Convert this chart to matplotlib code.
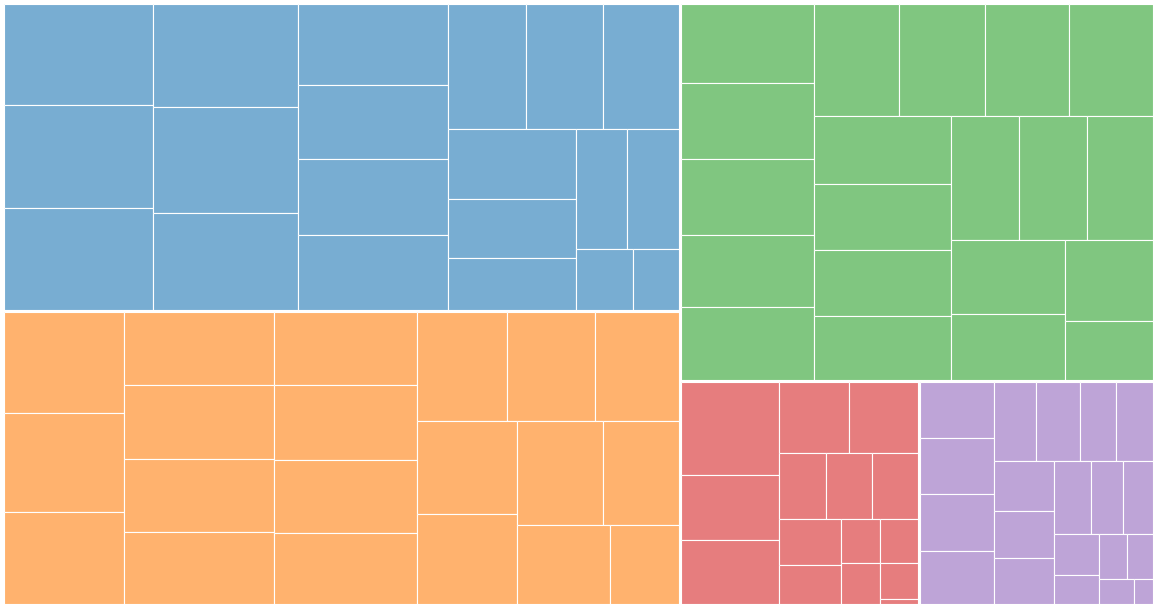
import math
import matplotlib
matplotlib.use("Agg")
import matplotlib.pyplot as plt
from matplotlib.patches import Rectangle

# ---- data (leaf values per group, in layout order) ----
groups = ["A", "B", "C", "D", "E"]
blue_values = [14999, 15251, 15043, 14979, 15225, 14022, 12081, 11168, 11228, 11182,
               9700, 9625, 9525, 8870, 7514, 6656, 6105, 6200, 3437, 2762]
orange_values = [12100, 11740, 11058, 10951, 11011, 10861, 10697, 10526, 10727, 10440,
                 10138, 9804, 9618, 9127, 9145, 8946, 8832, 7785, 7375, 5456]
green_values = [10460, 10102, 9930, 9586, 9573, 9562, 9573, 9349, 9383, 9302,
                9137, 8985, 8806, 8415, 8452, 8167, 8380, 7425, 7016, 5174]
red_values = [9062, 6421, 6284, 4989, 4889, 3141, 3074, 3047, 2857, 2403,
              1705, 1687, 1600, 1390, 194]
purple_values = [4143, 4121, 4217, 3921, 3369, 3448, 2899, 2946, 3039, 2857,
                 2778, 2660, 2396, 2176, 1848, 1306, 1259, 1169, 904, 479]
group_values = [blue_values, orange_values, green_values, red_values, purple_values]
group_colors = ["#1f77b4", "#ff7f0e", "#2ca02c", "#d62728", "#9467bd"]

PHI = (1 + math.sqrt(5)) / 2


def squarify(values, x0, y0, x1, y1, ratio=PHI):
    """d3-style squarified treemap layout; returns list of (x0, y0, x1, y1)."""
    rects = [None] * len(values)
    n = len(values)
    value = float(sum(values))
    i0 = i1 = 0
    while i0 < n:
        dx, dy = x1 - x0, y1 - y0
        s = values[i1]
        i1 += 1
        mn = mx = s
        alpha = max(dy / dx, dx / dy) / (value * ratio)
        beta = s * s * alpha
        min_ratio = max(mx / beta, beta / mn)
        while i1 < n:
            v = values[i1]
            s += v
            mn = min(mn, v)
            mx = max(mx, v)
            beta = s * s * alpha
            new_ratio = max(mx / beta, beta / mn)
            if new_ratio > min_ratio:
                s -= v
                break
            min_ratio = new_ratio
            i1 += 1
        if dx < dy:  # dice: horizontal row at top
            yb = y0 + dy * s / value
            xx = x0
            for k in range(i0, i1):
                w = (x1 - x0) * values[k] / s
                rects[k] = (xx, y0, xx + w, yb)
                xx += w
            y0 = yb
        else:  # slice: vertical column at left
            xb = x0 + dx * s / value
            yy = y0
            for k in range(i0, i1):
                h = (y1 - y0) * values[k] / s
                rects[k] = (x0, yy, xb, yy + h)
                yy += h
            x0 = xb
        value -= s
        i0 = i1
    return rects


W, H = 1157, 608
fig = plt.figure(figsize=(W / 100, H / 100), dpi=100)
ax = fig.add_axes([0, 0, 1, 1])
ax.set_xlim(0, W)
ax.set_ylim(H, 0)
ax.axis("off")

pad = 2.0
root = (4.0 - pad / 2, 3.5 - pad / 2, 1153.2 + pad / 2, 604.2 + pad / 2)
totals = [sum(v) for v in group_values]
grects = squarify(totals, *root)

for vals, col, (gx0, gy0, gx1, gy1) in zip(group_values, group_colors, grects):
    gx0 += pad / 2; gy0 += pad / 2; gx1 -= pad / 2; gy1 -= pad / 2
    for (lx0, ly0, lx1, ly1) in squarify(vals, gx0, gy0, gx1, gy1):
        ax.add_patch(Rectangle((lx0, ly0), lx1 - lx0, ly1 - ly0,
                               facecolor=col, alpha=0.6, edgecolor="none"))
        ax.add_patch(Rectangle((lx0, ly0), lx1 - lx0, ly1 - ly0,
                               facecolor="none", edgecolor="white", linewidth=0.8))

fig.savefig("out.png", dpi=100, facecolor="white")
